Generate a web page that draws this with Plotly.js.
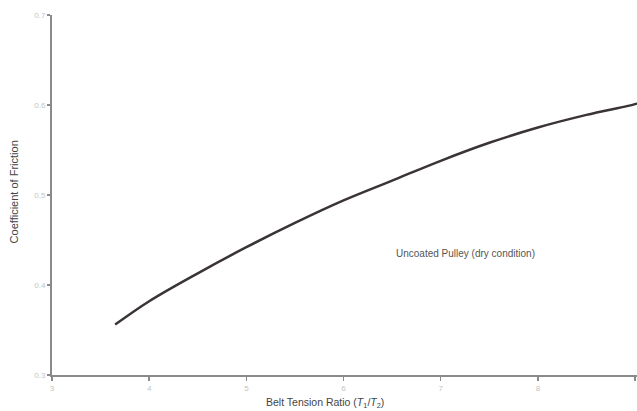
<!DOCTYPE html>
<html>
<head>
<meta charset="utf-8">
<script src="https://cdn.plot.ly/plotly-3.0.1.min.js"></script>
<style>html,body{margin:0;padding:0;background:#fff;}#chart{width:637px;height:411px;}</style>
</head>
<body>
<div id="chart"></div>
<script>
var tensionRatio = [3.65, 4.0, 4.5, 5.0, 5.5, 6.0, 6.5, 7.0, 7.5, 8.0, 8.5, 9.0, 9.02];
var frictionCoef = [0.356, 0.382, 0.413, 0.442, 0.469, 0.494, 0.516, 0.538, 0.558, 0.575, 0.589, 0.601, 0.602];
var xTickVals = [3, 4, 5, 6, 7, 8, 9];
var xTickText = ['3', '4', '5', '6', '7', '8', '9'];
var yTickVals = [0.3, 0.4, 0.5, 0.6, 0.7];
var yTickText = ['0.3', '0.4', '0.5', '0.6', '0.7'];
var seriesLabel = 'Uncoated Pulley (dry condition)';

var trace = {
  x: tensionRatio, y: frictionCoef, type: 'scatter', mode: 'lines',
  line: {color: '#3b3434', width: 2.5, shape: 'spline', smoothing: 1},
  hoverinfo: 'skip', showlegend: false
};

var layout = {
  width: 637, height: 411,
  margin: {l: 52, r: 0, t: 15, b: 36},
  paper_bgcolor: '#fff', plot_bgcolor: '#fff',
  font: {family: 'Liberation Sans, Arial, sans-serif', color: '#444'},
  xaxis: {
    range: [3, 9.02], showgrid: false, zeroline: false,
    showline: true, linecolor: '#8a8a8a', linewidth: 2,
    ticks: 'outside', ticklen: 4, tickcolor: '#8a8a8a', tickwidth: 1.5,
    tickvals: xTickVals, ticktext: xTickText,
    tickfont: {size: 8, color: '#c4c4c4'}
  },
  yaxis: {
    range: [0.3, 0.7], showgrid: false, zeroline: false,
    showline: true, linecolor: '#8a8a8a', linewidth: 2,
    ticks: 'outside', ticklen: 3, tickcolor: '#8a8a8a', tickwidth: 1.5,
    tickvals: yTickVals, ticktext: yTickText,
    tickfont: {size: 8, color: '#c4c4c4'}
  },
  annotations: [
    {x: 7.26, y: 0.435, xref: 'x', yref: 'y', text: seriesLabel, showarrow: false,
     font: {size: 10, color: '#555'}},
    {x: (325 - 52) / 585, y: -0.079, xref: 'paper', yref: 'paper', yanchor: 'middle',
     text: 'Belt Tension Ratio (<i>T</i><sub>1</sub>/<i>T</i><sub>2</sub>)', showarrow: false,
     font: {size: 10.5, color: '#444'}},
    {x: -0.065, y: 0.51, xref: 'paper', yref: 'paper', xanchor: 'center', textangle: -90,
     text: 'Coefficient of Friction', showarrow: false,
     font: {size: 11, color: '#444'}}
  ]
};

Plotly.newPlot('chart', [trace], layout, {displayModeBar: false, staticPlot: true});
</script>
</body>
</html>
